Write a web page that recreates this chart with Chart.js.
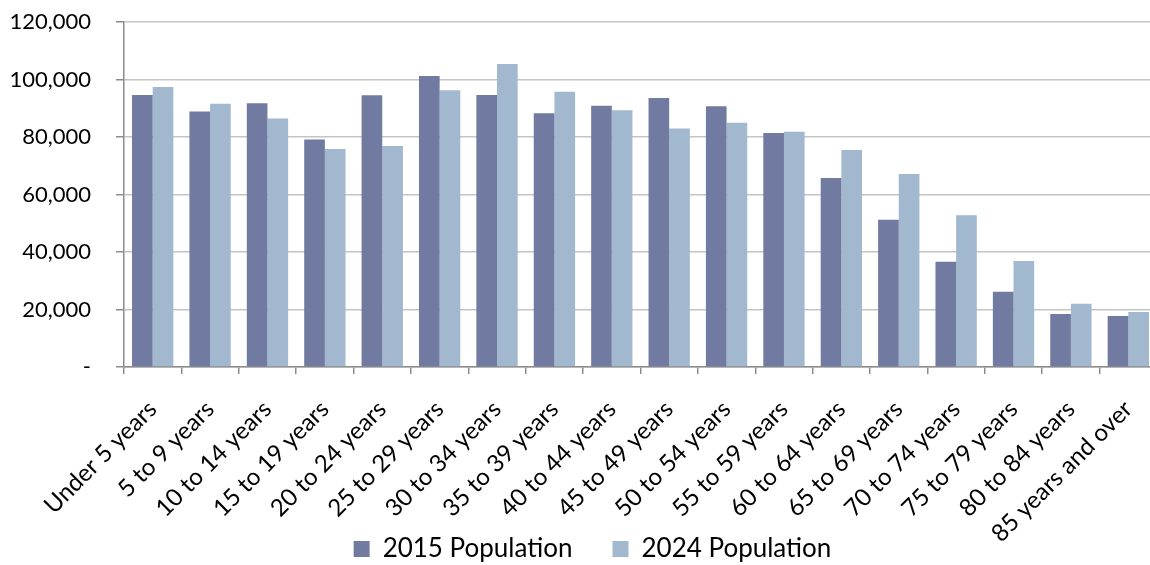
<!DOCTYPE html>
<html>
<head>
<meta charset="utf-8">
<script src="https://cdn.jsdelivr.net/npm/chart.js@4/dist/chart.umd.min.js"></script>
<style>
  html, body { margin: 0; padding: 0; background: #ffffff; overflow: hidden; }
  #wrap { position: relative; width: 1158px; height: 565px; }
</style>
</head>
<body>
<div id="wrap"><canvas id="chart"></canvas></div>
<script>
// Age groups along the horizontal axis
const ageGroups = [
  'Under 5 years', '5 to 9 years', '10 to 14 years', '15 to 19 years',
  '20 to 24 years', '25 to 29 years', '30 to 34 years', '35 to 39 years',
  '40 to 44 years', '45 to 49 years', '50 to 54 years', '55 to 59 years',
  '60 to 64 years', '65 to 69 years', '70 to 74 years', '75 to 79 years',
  '80 to 84 years', '85 years and over'
];

// Population counts per age group
const population2015 = [
  94600, 88900, 91700, 79100, 94500, 101200, 94600, 88300, 90900,
  93600, 90700, 81400, 65700, 51200, 36600, 26200, 18400, 17700
];
const population2024 = [
  97400, 91600, 86400, 75800, 76900, 96300, 105400, 95700, 89300,
  83000, 85000, 81800, 75500, 67100, 52800, 36900, 22000, 19100
];

// Value axis settings
const yMin = 0;
const yMax = 120000;
const yStep = 20000;

const seriesNames = ['2015 Population', '2024 Population'];

const FONT = 'Lato, "Open Sans", sans-serif';

// Nudges the bottom legend a little to the right of the canvas centre
const legendNudge = {
  id: 'legendNudge',
  afterLayout(chart) {
    if (chart.legend) {
      chart.legend.left += 14;
      chart.legend.right += 14;
    }
  }
};

const chart = new Chart(document.getElementById('chart'), {
  type: 'bar',
  data: {
    labels: ageGroups,
    datasets: [
      {
        label: seriesNames[0],
        data: population2015,
        backgroundColor: '#717ba1',
        borderWidth: 0,
        categoryPercentage: 0.72,
        barPercentage: 1.0
      },
      {
        label: seriesNames[1],
        data: population2024,
        backgroundColor: '#a2b8cf',
        borderWidth: 0,
        categoryPercentage: 0.72,
        barPercentage: 1.0
      }
    ]
  },
  plugins: [legendNudge],
  options: {
    responsive: true,
    maintainAspectRatio: false,
    animation: false,
    layout: { padding: { top: 22, right: 1, bottom: -7, left: 0 } },
    plugins: {
      tooltip: { enabled: false },
      legend: {
        position: 'bottom',
        labels: {
          color: '#000000',
          font: { family: FONT, size: 26 },
          boxWidth: 16,
          boxHeight: 16,
          padding: 40
        }
      }
    },
    scales: {
      x: {
        grid: {
          display: true,
          offset: true,
          drawOnChartArea: false,
          drawTicks: true,
          tickLength: 7,
          color: '#8c8c8c',
          lineWidth: 1.5
        },
        border: { display: true, color: '#8c8c8c', width: 1.5 },
        ticks: {
          color: '#000000',
          font: { family: FONT, size: 24 },
          maxRotation: 45,
          minRotation: 45,
          autoSkip: false,
          padding: 21
        },
        afterFit(scale) {
          scale.paddingLeft = 0;
          scale.paddingRight = 0;
          scale.height = 129;
          // let the slanted labels run past the axis box, down beside the legend
          scale._computeLabelArea = () => undefined;
        }
      },
      y: {
        min: yMin,
        max: yMax,
        grid: {
          color: '#c4c4c4',
          lineWidth: 1.5,
          drawTicks: true,
          tickLength: 8,
          tickColor: '#8c8c8c'
        },
        border: { display: true, color: '#8c8c8c', width: 1.5 },
        ticks: {
          stepSize: yStep,
          color: '#000000',
          font: { family: FONT, size: 22 },
          padding: 25,
          callback: (v) => v === 0 ? '-' : v.toLocaleString('en-US')
        },
        afterFit(scale) {
          scale.width = 124;
          scale.paddingTop = 0;
          scale.paddingBottom = 0;
        }
      }
    }
  }
});
</script>
</body>
</html>
